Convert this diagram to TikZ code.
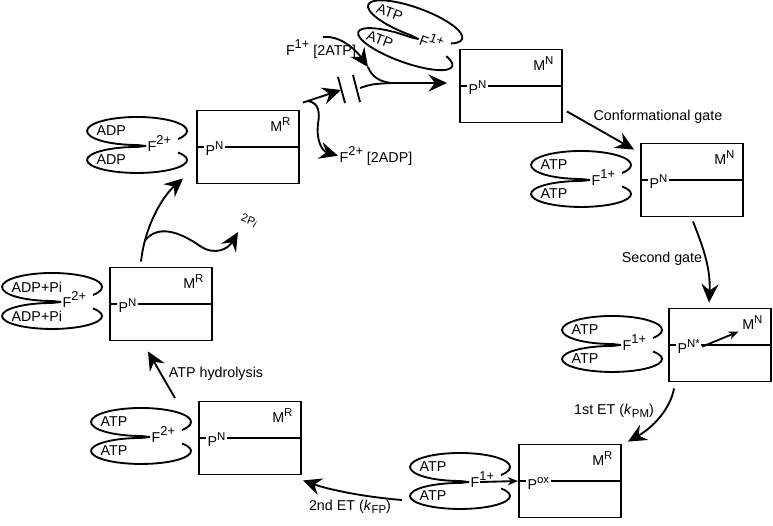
\documentclass[tikz,border=0pt]{standalone}
\usepackage{fontspec}
\setmainfont{Liberation Sans}
\usetikzlibrary{arrows.meta}

\newcommand{\ladung}[1]{\raisebox{4.6pt}{\small #1}}
\newcommand{\hoch}[1]{\raisebox{4.2pt}{\footnotesize #1}}
\newcommand{\tief}[1]{\raisebox{-2.5pt}{\footnotesize #1}}

\tikzset{
	komplexbox/.style={draw, minimum width=71.4pt, minimum height=51.1pt, inner sep=0pt},
	pfeil/.style={-{Stealth[length=13pt, width=12pt, inset=4.5pt]}},
	kleinpfeil/.style={-{Stealth[length=7pt, width=5.5pt, inset=2pt]}},
	schild/.style={inner sep=0.5pt},
}

% Komplex: Name, Mitte, P-Zustand, M-Zustand
\newcommand{\komplex}[4]{%
	\node[komplexbox] (#1) at #2 {};
	\draw (#1.west) -- (#1.east);
	\node[anchor=base west, fill=white, inner sep=1pt] (#1p) at ([shift={(5pt,-6pt)}]#1.west) {P\hoch{#3}};
	\node[anchor=north east, inner sep=0pt] (#1m) at ([shift={(-6pt,-5pt)}]#1.north east) {M\hoch{#4}};
}

% Ligand: Name, Verzweigung, Nukleotid, Ladung
\newcommand{\ligand}[4]{%
	\begin{scope}[shift={#2}]
		\coordinate (#1) at (0,0);
		\draw (41,-7) arc[start angle=35, end angle=-270, x radius=50, y radius=14] -- (9,0);
		\draw (41,6.5) arc[start angle=-35, end angle=270, x radius=50, y radius=13] -- (9,0);
		\node[schild, anchor=west] (#1o) at (-42,-15) {#3};
		\node[schild, anchor=west] (#1u) at (-42,14) {#3};
		\node[schild, anchor=base west] (#1f) at (9,5) {F\ladung{#4}};
	\end{scope}
}

\begin{document}
\begin{tikzpicture}[x=0.7pt, y=-0.7pt, line width=1.3pt, font=\fontsize{10}{12}\selectfont]
	\useasboundingbox (0,0) rectangle (773,525);
	% Komplexe
	\komplex{b1}{(248,147)}{N}{R}
	\komplex{b2}{(511,86)}{N}{N}
	\komplex{b3}{(692,180)}{N}{N}
	\komplex{b4}{(720,345)}{N*}{N}
	\komplex{b5}{(570,481)}{ox}{R}
	\komplex{b6}{(250,438)}{N}{R}
	\komplex{b7}{(161,304)}{N}{R}
	\draw[kleinpfeil, shorten >=2pt] (b4p.east) -- (b4m.south west);
	% Liganden
	\ligand{p1}{(137,146)}{ADP}{2+}
	\begin{scope}[rotate around={-20:(410,36)}, transform shape]
		\ligand{p2}{(410,36)}{ATP}{1+}
	\end{scope}
	\ligand{p3}{(581,180)}{ATP}{1+}
	\ligand{p4}{(612,345)}{ATP}{1+}
	\ligand{p5}{(460,482)}{ATP}{1+}
	\ligand{p6}{(141,437)}{ATP}{2+}
	\ligand{p7}{(52,302)}{ADP+Pi}{2+}
	\draw[kleinpfeil] ([shift={(20,0)}]p5) -- (b5.west);
	% Beschriftung
	\node (atpin) at (321,49) {F\ladung{1+} [2ATP]};
	\node[schild, anchor=base west] (adpout) at (338,162) {F\ladung{2+} [2ADP]};
	\node (tor1) at (658,117) {Conformational gate};
	\node (tor2) at (662,259) {Second gate};
	\node (et1) at (614,411) {1st ET (\textit{k}\tief{PM})};
	\node (et2) at (350,507) {2nd ET (\textit{k}\tief{FP})};
	\node (hyd) at (216,374) {ATP hydrolysis};
	\node[schild, font=\footnotesize, rotate=-20] (pi) at (249,221) {2P\raisebox{-1.5pt}{\scriptsize\textit{i}}};
	% Austausch am Tor
	\coordinate (stopA) at (341,90);
	\coordinate (stopB) at (360,88);
	\coordinate (merge) at (392,83);
	\coordinate (fork) at (308,101);
	\coordinate (atpmid) at (368,67);
	\draw[pfeil] ([shift={(3,-7)}]b1.north east) -- (stopA);
	\draw (338,77) -- (345,103);
	\draw (353,75) -- (360,102);
	\draw (stopB) .. controls (372,84) .. (merge);
	\draw[pfeil] (merge) -- ([shift={(-12,-3)}]b2.west);
	\draw[pfeil] ([shift={(2,3)}]atpin.north) .. controls (340,35) and (356,50) .. (atpmid);
	\draw (atpmid) .. controls (372,77) and (380,82) .. (merge);
	\draw[pfeil] (fork) .. controls (319,103) and (320,112) .. (318,124)
		.. controls (316,140) and (322,151) .. (adpout.west);
	% Zyklus
	\draw[pfeil] ([shift={(4,-12)}]b2.south east) -- ([shift={(-6,7)}]b3.north west);
	\draw[pfeil] ([shift={(1,4)}]b3.south) .. controls (700,240) and (711,265) .. ([shift={(-11,-5)}]b4.north);
	\draw[pfeil] ([shift={(6,6)}]b4.south west) .. controls (670,410) and (652,428) .. ([shift={(6,-2)}]b5.north east);
	\draw[pfeil] ([shift={(-58,18)}]p5) .. controls (365,497) and (330,490) .. ([shift={(1,5)}]b6.south east);
	\draw[pfeil] ([shift={(34,-39)}]p6) -- ([shift={(-13,10)}]b7.south);
	\draw[pfeil] ([shift={(-20,-5)}]b7.north) .. controls (145,225) and (163,196) ..
		coordinate[pos=0.2] (pistart) ([shift={(-13,-6)}]b1.south west);
	\draw[pfeil] (pistart) .. controls (158,224) and (180,232) .. (200,246)
		.. controls (215,256) and (228,249) .. ([shift={(-11,11)}]pi.center);
\end{tikzpicture}
\end{document}
